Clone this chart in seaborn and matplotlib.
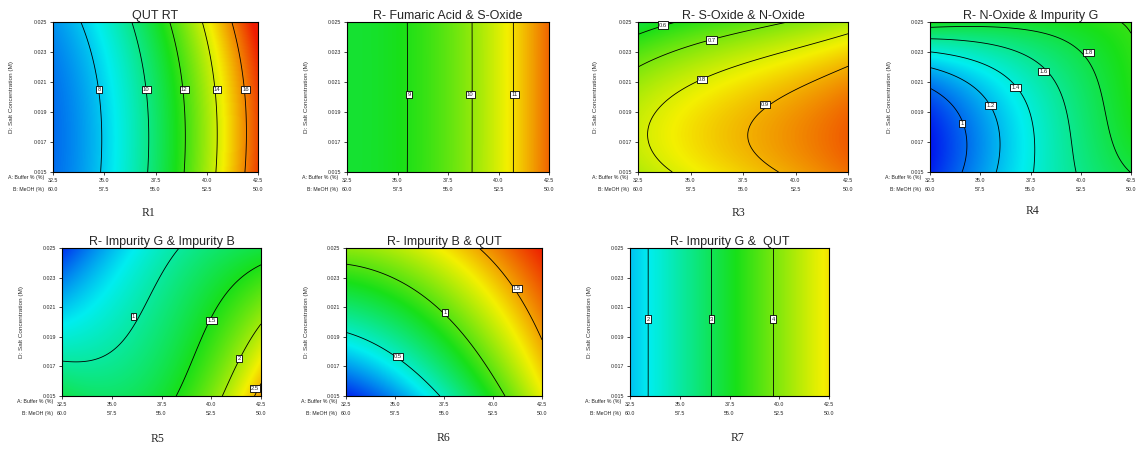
import numpy as np
import matplotlib
matplotlib.use("Agg")
import matplotlib.pyplot as plt
import matplotlib.transforms as mtransforms
import seaborn as sns

# ---------------- axis tick values ----------------
BUFFER_TICKS = [32.5, 35.0, 37.5, 40.0, 42.5]
MEOH_TICKS = ["60.0", "57.5", "55.0", "52.5", "50.0"]
SALT_TICKS = [0.015, 0.017, 0.019, 0.021, 0.023, 0.025]

TITLES = ["QUT RT", "R- Fumaric Acid & S-Oxide", "R- S-Oxide & N-Oxide",
          "R- N-Oxide & Impurity G", "R- Impurity G & Impurity B",
          "R- Impurity B & QUT", "R- Impurity G &  QUT"]
CAPTIONS = ["R1", "", "R3", "R4", "R5", "R6", "R7"]

# ---------------- response readings (Buffer %, Salt M, response) ----------------
R1_A = [34.7, 37.05, 38.9, 40.5, 41.9, 34.75, 37.05, 38.9, 40.5, 41.9,
        34.5, 36.7, 38.6, 40.2, 41.65, 34.1, 36.4, 38.2, 39.7, 41.1,
        32.5, 32.5, 32.5, 42.5, 42.5, 42.5]
R1_D = [0.015, 0.015, 0.015, 0.015, 0.015, 0.0205, 0.0205, 0.0205, 0.0205, 0.0205,
        0.0225, 0.0225, 0.0225, 0.0225, 0.0225, 0.025, 0.025, 0.025, 0.025, 0.025,
        0.015, 0.020, 0.025, 0.015, 0.020, 0.025]
R1_Z = [8, 10, 12, 14, 16, 8, 10, 12, 14, 16, 8, 10, 12, 14, 16, 8, 10, 12, 14, 16,
        6.7, 6.85, 7.4, 17.0, 17.15, 17.7]
R1_LEVELS = [8, 10, 12, 14, 16]

R2_A = [35.57, 35.57, 35.57, 38.6, 38.6, 38.6, 40.8, 40.8, 40.8,
        32.5, 32.5, 32.5, 42.5, 42.5, 42.5]
R2_D = [0.015, 0.020, 0.025, 0.015, 0.020, 0.025, 0.015, 0.020, 0.025,
        0.015, 0.020, 0.025, 0.015, 0.020, 0.025]
R2_Z = [9, 9, 9, 10, 10, 10, 11, 11, 11, 8.7, 8.7, 8.7, 12.1, 12.1, 12.1]
R2_LEVELS = [9, 10, 11]

R3_A = [32.5, 33.7, 34.2, 32.5, 36.0, 39.75, 33.05, 33.3, 35.55, 42.5, 34.2,
        37.85, 38.55, 42.5, 39.1, 42.5, 32.5, 42.5, 32.5, 42.5]
R3_D = [0.02415, 0.0248, 0.025, 0.02205, 0.0238, 0.025, 0.01745, 0.019, 0.02115,
        0.02415, 0.015, 0.01745, 0.0195, 0.02205, 0.015, 0.0175, 0.025, 0.015,
        0.015, 0.025]
R3_Z = [0.6, 0.6, 0.6, 0.7, 0.7, 0.7, 0.8, 0.8, 0.8, 0.8, 0.8,
        0.9, 0.9, 0.9, 0.9, 0.995, 0.55, 0.97, 0.76, 0.76]
R3_LEVELS = [0.6, 0.7, 0.8, 0.9]

R4_A = [32.5, 34.1, 34.1, 32.5, 35.5, 35.9, 35.9, 32.5, 36.75, 37.6, 37.6,
        32.5, 38.15, 39.25, 40.0, 32.5, 38.9, 40.4, 40.6, 41.25, 42.5,
        40.65, 42.5, 32.5, 32.5, 42.5, 32.5, 42.5, 42.5, 41.5]
R4_D = [0.0207, 0.01825, 0.015, 0.02195, 0.01943, 0.01745, 0.015, 0.023, 0.02065,
        0.0181, 0.015, 0.02385, 0.0217, 0.019, 0.015, 0.02455, 0.02445, 0.02295,
        0.02105, 0.0181, 0.01565, 0.0249, 0.02475, 0.017, 0.015, 0.025, 0.025,
        0.015, 0.020, 0.024]
R4_Z = [1.0, 1.0, 1.0, 1.2, 1.2, 1.2, 1.2, 1.4, 1.4, 1.4, 1.4, 1.6, 1.6, 1.6, 1.6,
        1.8, 1.8, 1.8, 1.8, 1.8, 1.8, 2.0, 2.0, 0.75, 0.82, 2.03, 1.88, 1.84, 1.93, 1.92]
R4_LEVELS = [1.0, 1.2, 1.4, 1.6, 1.8, 2.0]

R5_A = [32.5, 33.45, 34.95, 36.1, 37.125, 38.2, 38.375, 40.0, 40.8, 41.8, 42.5,
        40.6, 41.4, 42.5, 42.15, 42.5, 32.5, 32.5, 32.5, 42.5, 42.5, 37.5, 35.0, 35.0]
R5_D = [0.01745, 0.01722, 0.018, 0.02035, 0.0226, 0.025, 0.015, 0.02008, 0.02215,
        0.0233, 0.02375, 0.015, 0.01755, 0.01975, 0.015, 0.0159, 0.025, 0.020, 0.015,
        0.025, 0.015, 0.015, 0.025, 0.015]
R5_Z = [1.0, 1.0, 1.0, 1.0, 1.0, 1.0, 1.5, 1.5, 1.5, 1.5, 1.5, 2.0, 2.0, 2.0, 2.5, 2.5,
        0.05, 0.65, 1.3, 1.35, 2.62, 1.38, 0.45, 1.25]
R5_LEVELS = [1.0, 1.5, 2.0, 2.5]

R6_A = [32.5, 35.165, 37.375, 32.5, 34.5, 37.54, 39.575, 40.6,
        39.325, 41.225, 42.125, 42.5, 32.5, 42.5, 32.5, 42.5]
R6_D = [0.0194, 0.01768, 0.015, 0.02375, 0.02295, 0.02065, 0.01675, 0.015,
        0.025, 0.02225, 0.01997, 0.0186, 0.015, 0.025, 0.025, 0.015]
R6_Z = [0.5, 0.5, 0.5, 1.0, 1.0, 1.0, 1.0, 1.0, 1.5, 1.5, 1.5, 1.5, 0.0, 1.8, 1.1, 1.3]
R6_LEVELS = [0.5, 1.0, 1.5]

R7_A = [33.4, 33.4, 33.4, 36.6, 36.6, 36.6, 39.7, 39.7, 39.7,
        32.5, 32.5, 32.5, 42.5, 42.5, 42.5]
R7_D = [0.015, 0.020, 0.025, 0.015, 0.020, 0.025, 0.015, 0.020, 0.025,
        0.015, 0.020, 0.025, 0.015, 0.020, 0.025]
R7_Z = [2, 2, 2, 3, 3, 3, 4, 4, 4, 1.72, 1.72, 1.72, 4.875, 4.875, 4.875]
R7_LEVELS = [2, 3, 4]

# colour range of each panel
COLOR_MIN = [5.5, 5.08, 0.128, 0.75, -0.1, -0.055, 0.6]
COLOR_MAX = [17.5, 12.77, 1.065, 3.1, 3.1, 1.8, 6.2]

# where the contour value boxes sit (Buffer %, Salt M)
LABEL_POS = [
    [(34.75, 0.0205), (37.05, 0.0205), (38.9, 0.0205), (40.5, 0.0205), (41.9, 0.0205)],
    [(35.57, 0.02015), (38.6, 0.02015), (40.8, 0.02015)],
    [(33.7, 0.0248), (36.0, 0.0238), (35.55, 0.02115), (38.55, 0.0195)],
    [(34.1, 0.01825), (35.5, 0.01943), (36.75, 0.02065), (38.15, 0.0217), (40.4, 0.02295), None],
    [(36.1, 0.02035), (40.0, 0.02008), (41.4, 0.01755), (42.2, 0.0155)],
    [(35.165, 0.01768), (37.54, 0.02065), (41.225, 0.02225)],
    [(33.4, 0.0202), (36.6, 0.0202), (39.7, 0.0202)],
]

PANELS = [
    (R1_A, R1_D, R1_Z, R1_LEVELS),
    (R2_A, R2_D, R2_Z, R2_LEVELS),
    (R3_A, R3_D, R3_Z, R3_LEVELS),
    (R4_A, R4_D, R4_Z, R4_LEVELS),
    (R5_A, R5_D, R5_Z, R5_LEVELS),
    (R6_A, R6_D, R6_Z, R6_LEVELS),
    (R7_A, R7_D, R7_Z, R7_LEVELS),
]

# ---------------- layout (pixels of a 1141 x 450 canvas) ----------------
W, H = 1141, 450
AX_PIX = [(53, 22, 205, 150), (347, 22, 202, 150), (638, 22, 210, 150), (930, 22, 201, 150),
          (62, 248, 199, 148), (346, 248, 196, 148), (630, 248, 199, 148)]
CAP_PIX = [(148, 213), (448, 213), (738, 213), (1032, 211), (158, 439), (443, 438), (737, 438)]

sns.set_theme(style="white")
plt.rcParams["font.family"] = ["Liberation Sans", "DejaVu Sans"]

cmap = sns.blend_palette(["#0010ee", "#00eef0", "#18e018", "#f4f000", "#ee1c00"], as_cmap=True)


def basis(a, d):
    return np.stack([np.ones_like(a), a, d, a * a, a * d, d * d,
                     a ** 3, a * a * d, a * d * d, d ** 3], axis=-1)


def fit_surface(A, D, Z):
    a = (np.asarray(A, float) - 37.5) / 5.0
    d = (np.asarray(D, float) - 0.020) / 0.005
    X = basis(a, d)
    lam = 1e-3
    coef = np.linalg.solve(X.T @ X + lam * np.eye(X.shape[1]), X.T @ np.asarray(Z, float))
    return coef


fig = plt.figure(figsize=(W / 100, H / 100), dpi=100)
fig.patch.set_facecolor("white")

ga = np.linspace(32.5, 42.5, 300)
gd = np.linspace(0.015, 0.025, 300)
GA, GD = np.meshgrid(ga, gd)

for i, (A, D, Z, levels) in enumerate(PANELS):
    x, y, w, h = AX_PIX[i]
    ax = fig.add_axes([x / W, 1 - (y + h) / H, w / W, h / H])
    coef = fit_surface(A, D, Z)
    surf = basis((GA - 37.5) / 5.0, (GD - 0.020) / 0.005) @ coef
    ax.imshow(surf, origin="lower", extent=[32.5, 42.5, 0.015, 0.025], aspect="auto",
              cmap=cmap, vmin=COLOR_MIN[i], vmax=COLOR_MAX[i], interpolation="bilinear")
    ax.contour(GA, GD, surf, levels=levels, colors="black", linewidths=0.6)
    for lv, pos in zip(levels, LABEL_POS[i]):
        if pos is None:
            continue
        ax.text(pos[0], pos[1], f"{lv:g}", fontsize=4.2, ha="center", va="center",
                bbox=dict(boxstyle="square,pad=0.2", fc="white", ec="black", lw=0.6))
    ax.set_xlim(32.5, 42.5)
    ax.set_ylim(0.015, 0.025)
    ax.set_xticks(BUFFER_TICKS)
    ax.set_xticklabels([f"{v:.1f}" for v in BUFFER_TICKS])
    ax.set_yticks(SALT_TICKS)
    ax.set_yticklabels([f"{v:.3f}" for v in SALT_TICKS])
    ax.tick_params(axis="both", labelsize=3.8, length=2.5, width=0.6, pad=1.5,
                   direction="out", bottom=True, left=True)
    for sp in ax.spines.values():
        sp.set_color("black")
        sp.set_linewidth(0.8)
    trans = mtransforms.blended_transform_factory(ax.transData, ax.transAxes)
    for xv, lab in zip(BUFFER_TICKS, MEOH_TICKS):
        ax.text(xv, -0.118, lab, transform=trans, fontsize=3.8, ha="center", va="center")
    ax.text(-0.045, -0.04, "A: Buffer % (%)", transform=ax.transAxes, fontsize=3.8,
            ha="right", va="center")
    ax.text(-0.045, -0.118, "B: MeOH (%)", transform=ax.transAxes, fontsize=3.8,
            ha="right", va="center")
    ax.set_ylabel("D: Salt Concentration (M)", fontsize=4.6, color="#333333")
    ax.yaxis.set_label_coords(-0.19, 0.5)
    ax.set_title(TITLES[i], fontsize=9, pad=2)
    if CAPTIONS[i]:
        cx, cy = CAP_PIX[i]
        fig.text(cx / W, 1 - cy / H, CAPTIONS[i], fontsize=8.5, ha="center", va="center",
                 family=["Liberation Serif", "DejaVu Serif"])

fig.savefig("out.png", dpi=100, facecolor="white")
